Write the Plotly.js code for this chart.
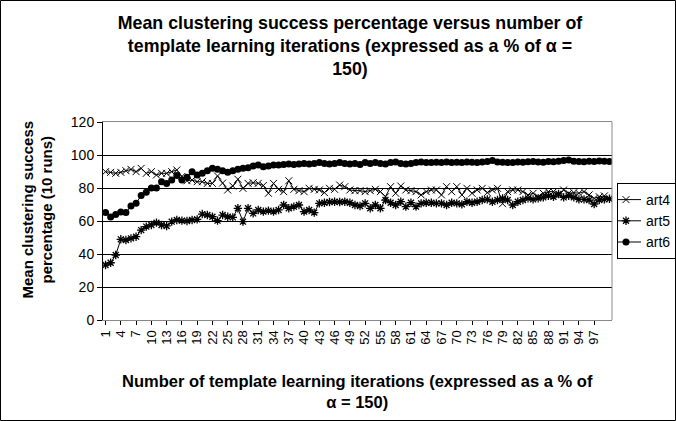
<!DOCTYPE html>
<html>
<head>
<meta charset="utf-8">
<script src="https://cdn.plot.ly/plotly-3.0.1.min.js"></script>
<style>
  html, body { margin: 0; padding: 0; background: #fff; }
  #chart { width: 676px; height: 421px; }
</style>
</head>
<body>
<div id="chart"></div>
<script>
const iterations = [1,2,3,4,5,6,7,8,9,10,11,12,13,14,15,16,17,18,19,20,21,22,23,24,25,26,27,28,29,30,31,32,33,34,35,36,37,38,39,40,41,42,43,44,45,46,47,48,49,50,51,52,53,54,55,56,57,58,59,60,61,62,63,64,65,66,67,68,69,70,71,72,73,74,75,76,77,78,79,80,81,82,83,84,85,86,87,88,89,90,91,92,93,94,95,96,97,98,99,100];
const tickLabels = [1,4,7,10,13,16,19,22,25,28,31,34,37,40,43,46,49,52,55,58,61,64,67,70,73,76,79,82,85,88,91,94,97];

const art4 = [89.9,89.5,88.9,89.5,90.5,91.3,89.9,91.9,88.9,89.9,87.9,88.9,88.9,89.9,90.9,87.0,
  84.4,84.8,83.8,83.8,82.8,82.8,87.3,83.0,78.8,81.2,85.3,79.8,82.8,83.2,82.8,81.5,
  76.8,82.8,79.2,77.8,84.4,79.2,78.4,77.8,79.8,79.2,78.8,77.2,79.8,79.2,81.8,80.8,
  78.8,78.4,78.4,77.8,78.4,79.2,77.8,74.7,80.8,76.8,81.2,78.8,78.4,77.8,75.8,77.8,
  78.8,78.8,75.8,80.8,77.8,80.8,75.8,79.8,76.8,78.8,79.8,77.2,78.8,79.8,70.5,77.8,
  78.8,78.8,77.8,75.8,76.8,74.7,76.8,77.8,77.8,75.8,78.8,76.8,77.2,76.8,77.8,75.8,73.7,74.7,75.2,73.5];

const art5 = [33.3,34.7,39.4,48.9,48.5,49.5,50.5,54.5,56.6,57.6,59.0,57.6,57.0,59.6,60.6,60.2,
  60.0,60.6,61.0,64.2,63.6,62.6,60.2,63.6,62.6,62.2,67.7,59.6,67.7,64.6,66.7,65.7,
  66.3,65.7,66.7,69.7,67.7,68.7,69.7,65.7,66.7,65.1,70.7,71.1,71.5,71.7,71.5,71.7,
  71.1,69.7,69.1,70.7,67.7,69.7,67.7,72.7,71.1,69.7,71.7,68.7,71.1,68.7,70.7,71.1,
  71.1,70.7,70.7,69.7,71.1,70.7,70.1,71.7,71.1,71.7,72.7,73.1,71.7,72.7,73.7,72.7,
  69.7,71.7,72.7,73.7,73.1,73.7,74.3,75.2,74.7,76.4,74.3,75.2,74.3,73.1,73.1,72.7,70.3,72.7,73.1,73.5];

const art6 = [65.1,62.4,64.0,65.4,65.1,69.1,70.7,75.5,77.5,80.0,80.0,83.8,82.8,84.8,87.6,84.8,
  86.5,89.9,87.9,88.9,90.5,91.9,91.3,90.5,89.5,90.5,91.3,91.9,92.3,93.3,93.9,92.9,
  93.3,93.9,93.9,94.3,94.5,94.3,94.5,94.9,94.5,94.9,95.4,94.9,94.5,94.9,95.4,94.9,
  94.5,94.9,94.3,95.4,94.9,95.4,94.9,94.5,95.4,95.8,94.9,94.5,94.9,95.4,95.8,95.4,
  95.4,95.6,95.4,95.8,95.4,95.6,95.4,95.8,95.6,95.4,95.8,96.0,96.6,95.8,95.6,95.4,
  95.4,95.8,95.6,95.9,96.0,95.8,95.6,96.0,95.9,96.2,96.6,97.0,96.2,96.0,95.9,96.2,96.0,96.4,96.2,96.0];

const FONT = 'Liberation Sans, Arial, sans-serif';

// plot area in pixels
const W = 676, H = 421;
const L = 103, R = 64, T = 122, B = 101;
const pw = W - L - R, ph = H - T - B;
const px = v => (v - L) / pw;
const py = v => (H - B - v) / ph;

const traces = [
  {x: iterations, y: art4, name: 'art4', type: 'scatter', mode: 'lines+markers',
   line: {color: '#000', width: 1},
   marker: {symbol: 'x-thin-open', size: 7, color: '#000', line: {color: '#000', width: 1}}},
  {x: iterations, y: art5, name: 'art5', type: 'scatter', mode: 'lines+markers',
   line: {color: '#000', width: 1},
   marker: {symbol: 'asterisk-open', size: 7, color: '#000', line: {color: '#000', width: 1.3}}},
  {x: iterations, y: art6, name: 'art6', type: 'scatter', mode: 'lines+markers',
   line: {color: '#000', width: 1},
   marker: {symbol: 'circle', size: 7, color: '#000'}}
];

const layout = {
  width: W, height: H,
  margin: {l: L, r: R, t: T, b: B, pad: 0, autoexpand: false},
  paper_bgcolor: '#fff', plot_bgcolor: '#fff',
  font: {family: FONT, color: '#000', size: 14},
  title: {
    text: '<b>Mean clustering success percentage versus number of</b><br><b>template learning iterations (expressed as a % of α =</b><br><b>150)</b>',
    font: {family: FONT, size: 17.8, color: '#000'},
    x: 350 / W, xanchor: 'center', xref: 'container',
    y: 1 - 29 / H, yanchor: 'top', yref: 'container'
  },
  xaxis: {
    type: 'linear', range: [0.5, 100.5],
    tickmode: 'array', tickvals: tickLabels, ticktext: tickLabels.map(String),
    tickangle: -90, tickfont: {family: FONT, size: 13, color: '#000'},
    ticks: 'outside', ticklen: 4, tickcolor: '#000', tickwidth: 1,
    showgrid: false, zeroline: false,
    showline: true, linecolor: '#888', linewidth: 1, mirror: true
  },
  yaxis: {
    range: [0, 120], dtick: 20, tick0: 0,
    tickfont: {family: FONT, size: 14, color: '#000'},
    ticks: 'outside', ticklen: 5, tickcolor: '#000',
    showgrid: true, gridcolor: '#000', gridwidth: 1,
    zeroline: false, showline: true, linecolor: '#000', linewidth: 1
  },
  showlegend: true,
  legend: {
    x: px(617), y: py(183), xanchor: 'left', yanchor: 'top',
    bordercolor: '#000', borderwidth: 1, bgcolor: 'rgba(255,255,255,0)',
    font: {family: FONT, size: 14, color: '#000'},
    itemwidth: 30, tracegroupgap: 0, indentation: -12
  },
  annotations: [
    {text: '<b>Number of template learning iterations (expressed as a % of</b><br><b>α = 150)</b>',
     xref: 'paper', yref: 'paper', x: px(357), y: py(391), xanchor: 'center', yanchor: 'middle',
     showarrow: false, font: {family: FONT, size: 16.5, color: '#000'}},
    {text: '<b>Mean clustering success</b><br><b>percentage (10 runs)</b>',
     xref: 'paper', yref: 'paper', x: px(36.5), y: py(210), xanchor: 'center', yanchor: 'middle',
     textangle: -90, showarrow: false, font: {family: FONT, size: 15, color: '#000'}}
  ],
  shapes: [
    {type: 'line', xref: 'paper', yref: 'paper', x0: 1, x1: 1, y0: 0, y1: 1,
     line: {color: '#888', width: 1}},
    {type: 'rect', xref: 'paper', yref: 'paper',
     x0: px(0.5), x1: px(675.5), y0: py(420.5), y1: py(0.5),
     line: {color: '#000', width: 1}, fillcolor: 'rgba(0,0,0,0)'}
  ]
};

Plotly.newPlot('chart', traces, layout, {displayModeBar: false, staticPlot: true});
</script>
</body>
</html>
